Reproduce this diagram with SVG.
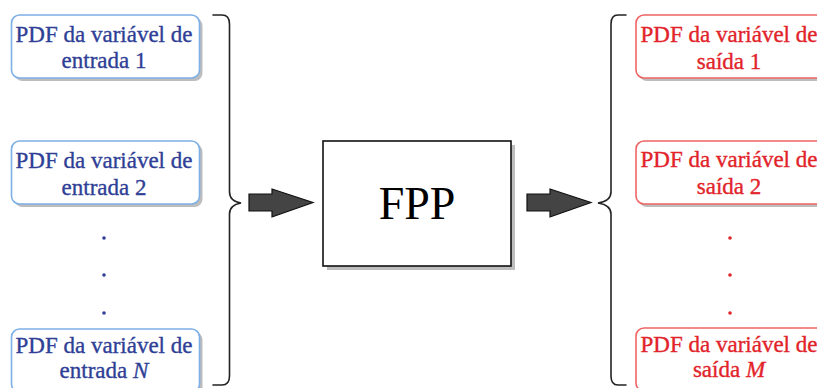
<svg xmlns="http://www.w3.org/2000/svg" width="817" height="388" viewBox="0 0 817 388">
  <defs>
    <style>
      .lbl { font-family: "Liberation Serif", "Times New Roman", serif; font-size: 23px; text-anchor: middle; stroke-width: 0.35; }
      .in .box { fill: #ffffff; stroke: #7eb0e6; stroke-width: 1.6; }
      .in text { fill: #2f3f96; stroke: #2f3f96; }
      .in .dot { fill: #2f3f96; }
      .out .box { fill: #ffffff; stroke: #f06464; stroke-width: 1.6; }
      .out text { fill: #e2232a; stroke: #e2232a; }
      .out .dot { fill: #e2232a; }
      .shadow { fill: #bdbdbd; }
      .brace { fill: none; stroke: #222222; stroke-width: 1.6; stroke-linecap: round; }
      .arrow { fill: #444444; stroke: #111111; stroke-width: 1.2; stroke-linejoin: miter; }
      .core { fill: #ffffff; stroke: #111111; stroke-width: 1.6; }
      .core-text { font-family: "Liberation Serif", "Times New Roman", serif; font-size: 46px; text-anchor: middle; fill: #000000; }
    </style>
  </defs>

  <!-- input distributions -->
  <g id="in1" class="in">
    <rect class="shadow" x="14.5" y="18" width="188" height="63" rx="8"/>
    <rect class="box" x="11.5" y="15" width="188" height="63" rx="8"/>
    <text class="lbl" x="104" y="42">PDF da variável de</text>
    <text class="lbl" x="104" y="68">entrada 1</text>
  </g>
  <g id="in2" class="in">
    <rect class="shadow" x="14.5" y="144" width="188" height="63" rx="8"/>
    <rect class="box" x="11.5" y="141" width="188" height="63" rx="8"/>
    <text class="lbl" x="104" y="168">PDF da variável de</text>
    <text class="lbl" x="104" y="195">entrada 2</text>
  </g>
  <g id="in-dots" class="in">
    <circle class="dot" cx="104" cy="238" r="1.8"/>
    <circle class="dot" cx="104" cy="275" r="1.8"/>
    <circle class="dot" cx="104" cy="313" r="1.8"/>
  </g>
  <g id="inN" class="in">
    <rect class="shadow" x="14.5" y="332" width="188" height="63" rx="8"/>
    <rect class="box" x="11.5" y="329" width="188" height="63" rx="8"/>
    <text class="lbl" x="104" y="353">PDF da variável de</text>
    <text class="lbl" x="104" y="378">entrada <tspan font-style="italic">N</tspan></text>
  </g>

  <!-- propagation block -->
  <g id="fpp">
    <rect class="shadow" x="327" y="145" width="188" height="125"/>
    <rect class="core" x="323" y="141" width="188" height="125"/>
    <text class="core-text" x="417" y="219">FPP</text>
  </g>

  <!-- output distributions -->
  <g id="out1" class="out">
    <rect class="shadow" x="639" y="18" width="188" height="63" rx="8"/>
    <rect class="box" x="636" y="15" width="188" height="63" rx="8"/>
    <text class="lbl" x="729" y="42">PDF da variável de</text>
    <text class="lbl" x="729" y="69">saída 1</text>
  </g>
  <g id="out2" class="out">
    <rect class="shadow" x="639" y="144" width="188" height="63" rx="8"/>
    <rect class="box" x="636" y="141" width="188" height="63" rx="8"/>
    <text class="lbl" x="729" y="167">PDF da variável de</text>
    <text class="lbl" x="729" y="194">saída 2</text>
  </g>
  <g id="out-dots" class="out">
    <circle class="dot" cx="730" cy="238" r="1.8"/>
    <circle class="dot" cx="730" cy="275" r="1.8"/>
    <circle class="dot" cx="730" cy="313" r="1.8"/>
  </g>
  <g id="outM" class="out">
    <rect class="shadow" x="639" y="331" width="188" height="63" rx="8"/>
    <rect class="box" x="636" y="328" width="188" height="63" rx="8"/>
    <text class="lbl" x="729" y="352">PDF da variável de</text>
    <text class="lbl" x="729" y="377">saída <tspan font-style="italic">M</tspan></text>
  </g>

  <!-- braces and flow arrows -->
  <g id="connectors">
    <path class="brace" d="M213,15 L222,15 Q229.5,15 229.5,24 L229.5,192 Q229.5,201 241,203 Q229.5,205 229.5,214 L229.5,376 Q229.5,385 222,385 L213,385"/>
    <path class="brace" d="M626,15 L618,15 Q611,15 611,24 L611,192 Q611,201 598,203 Q611,205 611,214 L611,376 Q611,385 618,385 L626,385"/>
    <polygon class="arrow" points="249,194 272,194 272,189 313,202.5 272,217 272,211 249,211"/>
    <polygon class="arrow" points="527,194 550,194 550,189 591,202.5 550,217 550,211 527,211"/>
  </g>
</svg>
